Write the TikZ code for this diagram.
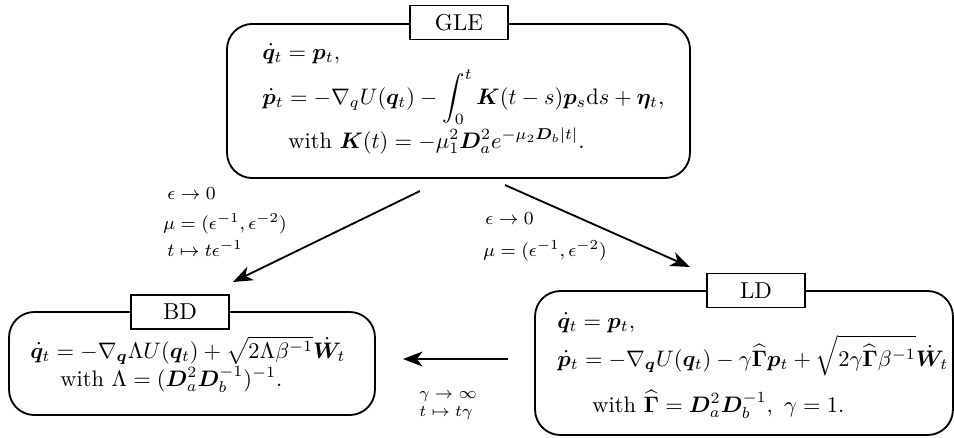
\documentclass[tikz,border=0pt]{standalone}
\usepackage{amsmath,amssymb,bm,graphicx}
\usetikzlibrary{arrows.meta}
\newcommand{\shr}[1]{\scalebox{0.975}{#1}}
\begin{document}
\begin{tikzpicture}[x=0.4348pt,y=-0.4348pt,
  bigbox/.style={draw,line width=0.8pt,rounded corners=11pt,inner sep=0pt},
  tag/.style={draw,line width=0.8pt,fill=white,minimum width=42.6pt,minimum height=14.8pt,inner sep=0pt},
  eq/.style={anchor=base west,inner sep=0pt},
  lbl/.style={anchor=base west,inner sep=0pt,font=\footnotesize},
  slbl/.style={anchor=base,inner sep=0pt,font=\scriptsize},
  conn/.style={line width=0.8pt,-{Stealth[length=8.5pt,width=6.5pt,inset=2.5pt]}}]
\useasboundingbox (0,0) rectangle (954,437);
% boxes
\node[bigbox,minimum width=201.3pt,minimum height=67pt] (gle) at (458.5,101) {};
\node[tag] (gletag) at (459,22.5) {GLE};
\node[bigbox,minimum width=159.1pt,minimum height=44.8pt] (bd) at (192,363.5) {};
\node[tag] (bdtag) at (180,312) {BD};
\node[bigbox,minimum width=181.7pt,minimum height=62.6pt] (ld) at (744,363) {};
\node[tag] (ldtag) at (756,290.5) {LD};
% GLE equations
\node[eq] (g1) at (262,59) {\shr{$\dot{\bm q}_t = \bm p_t,$}};
\node[eq] (g2) at (262,104) {\shr{$\dot{\bm p}_t = -\nabla_q U(\bm q_t) - \displaystyle\int_0^t \bm K(t-s)\bm p_s\mathrm{d}s + \bm\eta_t,$}};
\node[eq] (g3) at (288,148) {\shr{with $\bm K(t) = -\mu_1^2\bm D_a^2 e^{-\mu_2\bm D_b|t|}.$}};
% BD equations
\node[eq] (b1) at (30,358) {\shr{$\dot{\bm q}_t = -\nabla_{\bm q}\Lambda U(\bm q_t) + \sqrt{2\Lambda\beta^{-1}}\dot{\bm W}_t$}};
\node[eq] (b2) at (60,386) {\shr{with $\Lambda = (\bm D_a^2\bm D_b^{-1})^{-1}.$}};
% LD equations
\node[eq] (l1) at (557,328) {\shr{$\dot{\bm q}_t = \bm p_t,$}};
\node[eq] (l2) at (557,366) {\shr{$\dot{\bm p}_t = -\nabla_{\bm q}U(\bm q_t) - \gamma\widehat{\bm\Gamma}\bm p_t + \sqrt{2\gamma\widehat{\bm\Gamma}\beta^{-1}}\dot{\bm W}_t$}};
\node[eq] (l3) at (592,412) {\shr{with $\widehat{\bm\Gamma} = \bm D_a^2\bm D_b^{-1},\ \gamma=1.$}};
% arrows
\coordinate (s1) at (420,191);
\coordinate (e1) at (233,282);
\coordinate (s2) at (505,185);
\coordinate (e2) at (690,267);
\coordinate (s3) at (508,359);
\coordinate (e3) at (403,359);
\draw[conn] (s1) -- (e1);
\draw[conn] (s2) -- (e2);
\draw[conn] (s3) -- (e3);
% labels
\node[lbl] (la1) at (167,199) {$\epsilon\to0$};
\node[lbl] (la2) at (163,229) {$\mu=(\epsilon^{-1},\epsilon^{-2})$};
\node[lbl] (la3) at (167,256) {$t\mapsto t\epsilon^{-1}$};
\node[lbl] (lb1) at (485,224) {$\epsilon\to0$};
\node[lbl] (lb2) at (483,256) {$\mu=(\epsilon^{-1},\epsilon^{-2})$};
\node[slbl] (lc1) at (448,398) {$\gamma\to\infty$};
\node[slbl] (lc2) at (446,416) {$t\mapsto t\gamma$};
\end{tikzpicture}
\end{document}
